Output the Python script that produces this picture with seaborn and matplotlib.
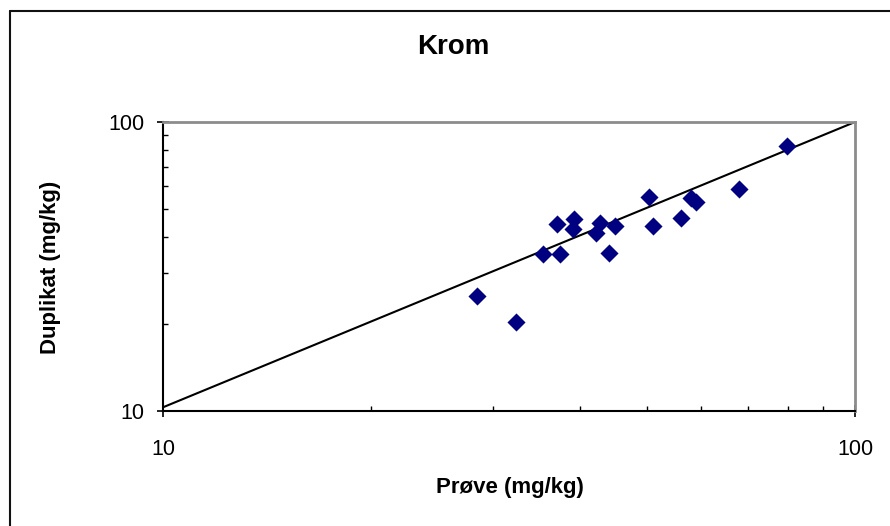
import matplotlib.pyplot as plt
import seaborn as sns
from matplotlib.lines import Line2D
from matplotlib.ticker import LogLocator, NullFormatter, FixedLocator, FixedFormatter

# Data (mg/kg)
prove = [28.4, 32.4, 35.4, 37.5, 37.1, 39.1, 39.3, 42.3, 42.8, 45.0,
         44.1, 50.4, 51.1, 56.1, 57.9, 59.0, 68.0, 79.7]
duplikat = [24.9, 20.4, 34.9, 34.9, 44.4, 42.6, 46.1, 41.2, 44.6, 43.6,
            35.3, 55.1, 43.6, 46.5, 54.4, 52.7, 58.6, 82.6]

# Reference line
line_x = [10, 100]
line_y = [10.3, 100]

sns.set_style('white')
plt.rcParams['font.family'] = ['Liberation Sans', 'DejaVu Sans']
plt.rcParams['text.color'] = 'black'
plt.rcParams['xtick.color'] = 'black'
plt.rcParams['ytick.color'] = 'black'
plt.rcParams['axes.labelcolor'] = 'black'

fig = plt.figure(figsize=(8.9, 5.26), dpi=100)
ax = fig.add_axes([163 / 890, 1 - 411 / 526, 692 / 890, 289 / 526])

sns.lineplot(x=line_x, y=line_y, ax=ax, color='black', linewidth=1.5)
sns.scatterplot(x=prove, y=duplikat, ax=ax, marker='D', s=85,
                color='#000080', edgecolor='#000080', linewidth=0, zorder=3)

ax.set_xscale('log')
ax.set_yscale('log')
ax.set_xlim(10, 100)
ax.set_ylim(10, 100)

for axis in (ax.xaxis, ax.yaxis):
    axis.set_major_locator(FixedLocator([10, 100]))
    axis.set_major_formatter(FixedFormatter(['10', '100']))
    axis.set_minor_locator(LogLocator(base=10, subs=range(2, 10)))
    axis.set_minor_formatter(NullFormatter())

ax.tick_params(which='major', direction='inout', length=9, width=1.2,
               color='black', labelsize=15.5, labelcolor='black')
ax.tick_params(which='minor', direction='in', length=3.8, width=1,
               color='black')
ax.tick_params(axis='x', which='major', pad=16)
ax.tick_params(axis='y', which='major', pad=9)
ax.tick_params(left=True, bottom=True, which='both')

ax.spines['left'].set_color('black')
ax.spines['bottom'].set_color('black')
ax.spines['left'].set_linewidth(1.5)
ax.spines['bottom'].set_linewidth(1.5)
ax.spines['top'].set_color('#8c8c8c')
ax.spines['right'].set_color('#8c8c8c')
ax.spines['top'].set_linewidth(2)
ax.spines['right'].set_linewidth(2)

ax.set_xlabel('')
ax.set_ylabel('')

fig.text(453 / 890, 1 - 47 / 526, 'Krom', ha='center', va='center',
         fontsize=20, fontweight='bold', color='black')
fig.text(510 / 890, 1 - 487 / 526, 'Prøve (mg/kg)', ha='center', va='center',
         fontsize=16, fontweight='bold', color='black')
fig.text(51 / 890, 1 - 267 / 526, 'Duplikat (mg/kg)', ha='center', va='center',
         fontsize=16, fontweight='bold', rotation=90, color='black')

# outer chart border (left and top edges visible)
fig.add_artist(Line2D([10 / 890, 10 / 890], [0, 1 - 11 / 526],
                      transform=fig.transFigure, color='#111111', linewidth=1.5))
fig.add_artist(Line2D([10 / 890, 1], [1 - 11 / 526, 1 - 11 / 526],
                      transform=fig.transFigure, color='#111111', linewidth=1.5))

fig.savefig('out.png', dpi=100)
